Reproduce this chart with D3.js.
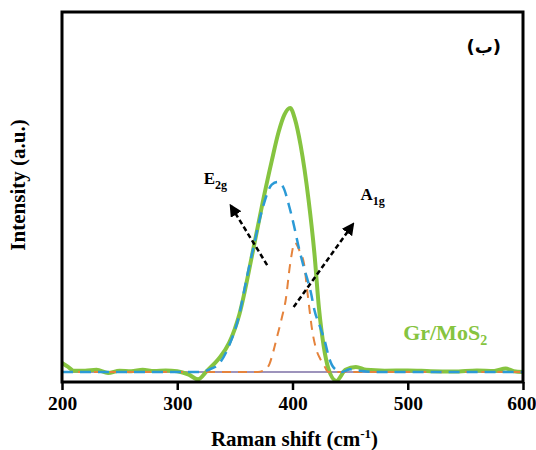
<!DOCTYPE html>
<html>
<head>
<meta charset="utf-8">
<script src="https://cdn.jsdelivr.net/npm/d3@7"></script>
<style>
  body { margin: 0; background: #fff; }
  text { font-family: "Liberation Serif", "Times New Roman", serif; font-weight: bold; }
</style>
</head>
<body>
<div id="chart"></div>
<script>
// Gr/MoS2 measured spectrum
var grX = [200, 205, 210, 220, 230, 240, 250, 260, 270, 280, 290, 300, 310, 318, 326, 336, 345, 354, 366, 374, 382, 388, 393, 398, 402, 407, 414, 419, 423, 427, 431, 438, 446, 455, 464, 480, 500, 520, 540, 560, 575, 585, 592, 600];
var grY = [3.4, 2, 0.5, 0.5, 0.8, -0.4, 0.5, 0.3, 0.8, 0.4, 0.6, 0.3, -1.0, -2.8, 0.5, 5, 11, 22, 46.6, 64, 80, 91, 97.5, 100, 96, 86, 65, 45, 24, 10, 1.5, -3.4, 0.8, 1.9, 0.8, 0.5, 0.6, 0.3, 0.2, 0.6, 0.4, 1.3, 0.3, 0];

// fitted E2g component
var e2gX = [200, 250, 300, 320, 328, 336, 345, 354, 360, 366, 374, 382, 387, 392, 397, 401, 405, 409, 416, 419, 424, 428, 432, 436, 443, 450, 458, 470, 520, 600];
var e2gY = [0, 0, 0, 0, 1, 3, 10, 22, 35, 47, 62, 71, 72, 70, 63, 56, 48, 41, 30, 23.5, 17, 11.7, 5, 1.5, 0, 1, 0.5, 0, 0, 0];

// fitted A1g component
var a1gX = [200, 300, 370, 376, 380, 383.5, 387, 391, 394, 398, 402, 406, 410, 413, 417.6, 421, 424, 428, 431, 500, 600];
var a1gY = [0, 0, 0, 0.8, 3, 8, 14, 21, 27, 41, 49, 46, 41, 30, 14.4, 8, 5, 2, 0, 0, 0];

// baseline
var baseX = [200, 600];
var baseY = [0, 0];

var xTicks = [200, 300, 400, 500, 600];

// peak arrows: [x1, y1, x2, y2] in data units
var e2gArrow = [378, 40.5, 346, 63.3];
var a1gArrow = [401, 24.6, 453, 56.3];

var margin = {top: 12, right: 13, bottom: 68, left: 62},
    width = 536 - margin.left - margin.right,
    height = 450 - margin.top - margin.bottom;

var svg = d3.select("#chart")
  .append("svg")
  .attr("width", 536)
  .attr("height", 450)
  .append("g")
  .attr("transform", "translate(" + margin.left + "," + margin.top + ")");

var x = d3.scaleLinear().domain([200, 600]).range([0, width]);
var y = d3.scaleLinear().domain([-3.8, 136.4]).range([height, 0]);

svg.append("defs").append("marker")
  .attr("id", "head")
  .attr("viewBox", "0 0 10 10")
  .attr("refX", 9).attr("refY", 5)
  .attr("markerWidth", 5).attr("markerHeight", 5)
  .attr("markerUnits", "strokeWidth")
  .attr("orient", "auto")
  .append("path")
  .attr("d", "M0,0 L10,5 L0,10 z")
  .attr("fill", "#000");

function zip(xs, ys) {
  return xs.map(function(d, i) { return [d, ys[i]]; });
}

var line = d3.line()
  .x(function(d) { return x(d[0]); })
  .y(function(d) { return y(d[1]); })
  .curve(d3.curveMonotoneX);

svg.append("path")
  .datum(zip(baseX, baseY))
  .attr("fill", "none")
  .attr("stroke", "#7c6fa6")
  .attr("stroke-width", 1.5)
  .attr("d", line);

svg.append("path")
  .datum(zip(grX, grY))
  .attr("fill", "none")
  .attr("stroke", "#86c440")
  .attr("stroke-width", 4)
  .attr("stroke-linejoin", "round")
  .attr("d", line);

svg.append("path")
  .datum(zip(a1gX, a1gY))
  .attr("fill", "none")
  .attr("stroke", "#e5833c")
  .attr("stroke-width", 2)
  .attr("stroke-dasharray", "9,7")
  .attr("d", line);

svg.append("path")
  .datum(zip(e2gX, e2gY))
  .attr("fill", "none")
  .attr("stroke", "#2b9ad6")
  .attr("stroke-width", 2.5)
  .attr("stroke-dasharray", "11,7")
  .attr("d", line);

[e2gArrow, a1gArrow].forEach(function(a) {
  svg.append("line")
    .attr("x1", x(a[0])).attr("y1", y(a[1]))
    .attr("x2", x(a[2])).attr("y2", y(a[3]))
    .attr("stroke", "#000")
    .attr("stroke-width", 2.5)
    .attr("stroke-dasharray", "5,3")
    .attr("marker-end", "url(#head)");
});

// frame
svg.append("rect")
  .attr("width", width)
  .attr("height", height)
  .attr("fill", "none")
  .attr("stroke", "#000")
  .attr("stroke-width", 3);

var xAxis = svg.append("g")
  .attr("transform", "translate(0," + height + ")")
  .call(d3.axisBottom(x).tickValues(xTicks).tickSize(8).tickPadding(6));
xAxis.select(".domain").remove();
xAxis.selectAll("line").attr("stroke", "#000").attr("stroke-width", 2.5);
xAxis.selectAll("text")
  .style("font-family", "Liberation Serif")
  .style("font-weight", "bold")
  .style("font-size", "19.5px")
  .attr("fill", "#000");
// the last label sits flush with the page edge
xAxis.selectAll("text").filter(function(d) { return d === 600; })
  .attr("text-anchor", "end").attr("x", 13);

svg.append("text")
  .attr("x", width / 2 + 2)
  .attr("y", height + 64)
  .attr("text-anchor", "middle")
  .style("font-size", "21px")
  .html('Raman shift (cm<tspan dy="-8" font-size="13px">-1</tspan><tspan dy="8">)</tspan>');

svg.append("text")
  .attr("transform", "translate(" + (-37) + "," + (173) + ") rotate(-90)")
  .attr("text-anchor", "middle")
  .style("font-size", "21px")
  .text("Intensity (a.u.)");

svg.append("text")
  .attr("x", x(323))
  .attr("y", y(71.2))
  .style("font-size", "17px")
  .html('E<tspan dy="5" font-size="12px">2g</tspan>');

svg.append("text")
  .attr("x", x(459))
  .attr("y", y(65.2))
  .style("font-size", "17px")
  .html('A<tspan dy="5" font-size="12px">1g</tspan>');

svg.append("text")
  .attr("x", x(496))
  .attr("y", y(-3.8) - 42)
  .attr("fill", "#86c440")
  .style("font-size", "22px")
  .html('Gr/MoS<tspan dy="5" font-size="14px">2</tspan>');

svg.append("text")
  .attr("x", width - 22)
  .attr("y", 41)
  .attr("text-anchor", "end")
  .style("font-family", "DejaVu Sans")
  .style("font-size", "18px")
  .text("(ب)");
</script>
</body>
</html>
